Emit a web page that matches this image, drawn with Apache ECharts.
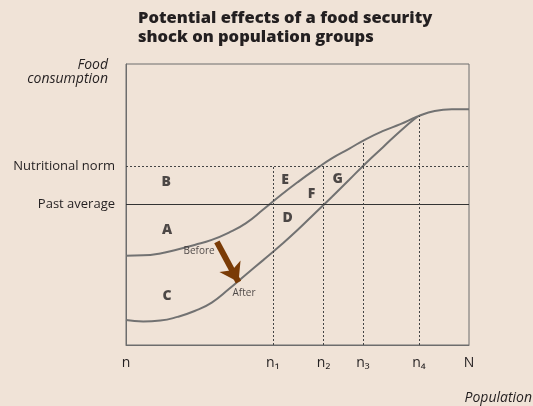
<!DOCTYPE html>
<html>
<head>
<meta charset="utf-8">
<script src="https://cdn.jsdelivr.net/npm/echarts@6/dist/echarts.min.js"></script>
<style>
    html, body { margin: 0; padding: 0; background: #f0e3d7; }
    #chart { width: 533px; height: 406px; }
</style>
</head>
<body>
<div id="chart"></div>
<script>
    // x: population from n (0) to N (100), y: food consumption index (0..100)
    let popTicks = [0, 42.8, 57.6, 69.1, 85.4, 100];
    let popLabels = ['n', 'n₁', 'n₂', 'n₃', 'n₄', 'N'];
    let levelValues = [50, 63.7];
    let levelLabels = ['Past average', 'Nutritional norm'];
    let beforeX = [0, 5, 10, 15, 20, 25, 30, 35, 40, 45, 50, 55, 60, 65, 70, 75, 80, 85, 90, 95, 100];
    let beforeY = [31.8, 31.9, 32.6, 34.0, 35.6, 37.4, 40.0, 43.4, 48.2, 53.2, 57.9, 62.3, 66.4, 69.8, 73.3,
        76.2, 78.6, 81.3, 83.3, 83.9, 83.9];
    let afterX = [0, 5, 10, 15, 20, 25, 30, 35, 40, 45, 50, 55, 60, 65, 70, 75, 80, 85];
    let afterY = [8.9, 8.4, 8.7, 10.0, 12.1, 15.1, 19.9, 25.1, 30.2, 35.4, 40.9, 46.8, 52.7, 58.7, 64.8,
        70.5, 76.2, 81.3];
    // where the dotted guides at n1..n4 stop
    let guideTop = [63.7, 63.7, 72.7, 81.5];
    let zoneNames = ['B', 'A', 'C', 'E', 'F', 'G', 'D'];
    let zoneX = [11.7, 12.0, 12.0, 46.4, 54.1, 61.7, 47.1];
    let zoneY = [58.0, 40.9, 17.4, 58.7, 53.7, 59.0, 45.3];
    let curveNames = ['Before', 'After'];
    let curveNameX = [21.3, 34.4];
    let curveNameY = [33.5, 18.5];
    let shockFrom = [26.5, 36.7];
    let shockTo = [32.8, 22.4];

    let font = 'Open Sans';
    let myChart = echarts.init(document.getElementById('chart'));

    let zip = function (xs, ys) {
        return xs.map(function (x, i) { return [x, ys[i]]; });
    };

    let dotted = {type: [2, 2], color: '#444', width: 1};
    let guides = [];
    for (let i = 1; i < popTicks.length - 1; i++) {
        guides.push([
            {coord: [popTicks[i], 0], lineStyle: dotted},
            {coord: [popTicks[i], guideTop[i - 1]]}
        ]);
    }

    let option = {
        backgroundColor: '#f0e3d7',
        animation: false,
        title: {
            text: 'Potential effects of a food security\nshock on population groups',
            left: 133,
            top: 4,
            textStyle: {
                fontFamily: font,
                fontSize: 16.5,
                fontWeight: 800,
                lineHeight: 19,
                color: '#231f20'
            }
        },
        graphic: [
            {
                type: 'text', x: 108, y: 58,
                style: {text: 'Food\nconsumption', align: 'right', fill: '#231f20',
                    font: 'italic 14px "Open Sans"', lineHeight: 14}
            },
            {
                type: 'text', x: 532, y: 391,
                style: {text: 'Population', align: 'right', fill: '#231f20', font: 'italic 14px "Open Sans"'}
            }
        ],
        grid: {
            left: 126,
            right: 64,
            top: 64,
            bottom: 61,
            show: true,
            borderColor: '#6d6d6d',
            borderWidth: 1
        },
        xAxis: {
            type: 'value',
            min: 0,
            max: 100,
            splitLine: {show: false},
            axisTick: {show: false},
            axisLine: {lineStyle: {color: '#6d6d6d'}},
            axisLabel: {
                customValues: popTicks,
                formatter: function (v) { return popLabels[popTicks.indexOf(v)]; },
                margin: 11,
                fontFamily: font,
                fontSize: 14,
                color: '#231f20'
            }
        },
        yAxis: {
            type: 'value',
            min: 0,
            max: 100,
            splitLine: {show: false},
            axisTick: {show: false},
            axisLine: {lineStyle: {color: '#6d6d6d'}},
            axisLabel: {
                customValues: levelValues,
                formatter: function (v) { return levelLabels[levelValues.indexOf(v)]; },
                margin: 11,
                fontFamily: font,
                fontSize: 13,
                color: '#231f20'
            }
        },
        series: [
            {
                name: 'Before',
                type: 'line',
                data: zip(beforeX, beforeY),
                smooth: 0.5,
                showSymbol: false,
                lineStyle: {color: '#727272', width: 2},
                markLine: {
                    silent: true,
                    symbol: 'none',
                    label: {show: false},
                    data: [
                        {yAxis: levelValues[1], lineStyle: dotted},
                        {yAxis: levelValues[0], lineStyle: {type: 'solid', color: '#333', width: 1}}
                    ].concat(guides)
                },
                z: 3
            },
            {
                name: 'After',
                type: 'line',
                data: zip(afterX, afterY),
                smooth: 0.5,
                showSymbol: false,
                lineStyle: {color: '#727272', width: 2},
                markLine: {
                    silent: true,
                    label: {show: false},
                    lineStyle: {type: 'solid', color: '#7a3b06', width: 6},
                    data: [[
                        {coord: shockFrom, symbol: 'none'},
                        {coord: shockTo, symbol: 'arrow', symbolSize: 18}
                    ]]
                },
                z: 3
            },
            {
                name: 'zones',
                type: 'scatter',
                symbolSize: 0,
                data: zip(zoneX, zoneY).map(function (p, i) { return {value: p, name: zoneNames[i]}; }),
                label: {
                    show: true,
                    position: 'inside',
                    formatter: '{b}',
                    fontFamily: font,
                    fontSize: 14,
                    fontWeight: 800,
                    color: '#231f20'
                },
                z: 4
            },
            {
                name: 'curveNames',
                type: 'scatter',
                symbolSize: 0,
                data: zip(curveNameX, curveNameY).map(function (p, i) { return {value: p, name: curveNames[i]}; }),
                label: {
                    show: true,
                    position: 'inside',
                    formatter: '{b}',
                    fontFamily: font,
                    fontSize: 10,
                    color: '#231f20'
                },
                z: 4
            }
        ]
    };
    myChart.setOption(option);
</script>
</body>
</html>
